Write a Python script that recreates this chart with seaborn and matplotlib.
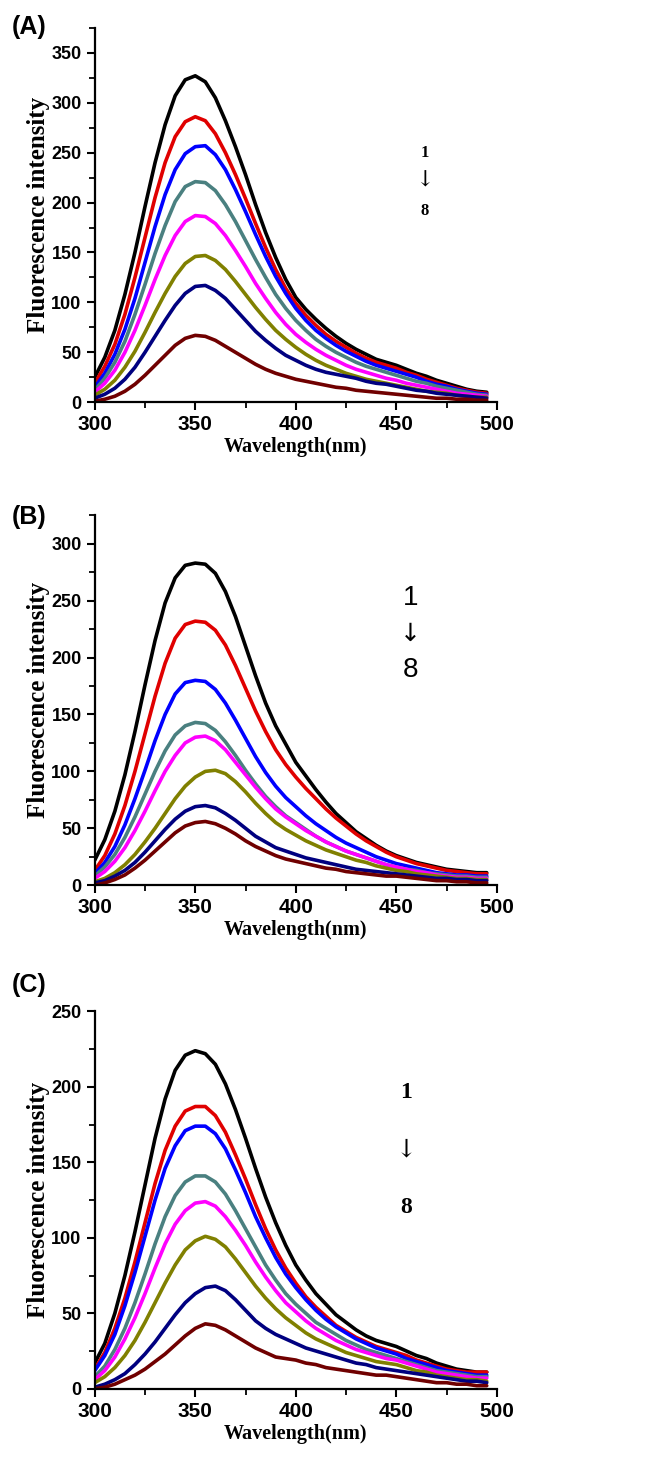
import numpy as np
import pandas as pd
import matplotlib
matplotlib.use("Agg")
import matplotlib.pyplot as plt
from matplotlib.ticker import MultipleLocator
import seaborn as sns

wavelength = list(range(300, 500, 5))

curve_names = ["1", "2", "3", "4", "5", "6", "7", "8"]
colors = ["#000000", "#e00000", "#0000ff", "#4a8080", "#ff00ff", "#808000", "#000080", "#700000"]

# ---- Panel A ----
A1 = [25, 45, 72, 108, 150, 196, 240, 278, 307, 323, 327, 321, 305, 282, 256, 228, 198, 170, 145, 123,
      105, 93, 83, 74, 66, 59, 53, 48, 43, 40, 37, 33, 29, 26, 22, 19, 16, 13, 11, 10]
A2 = [19, 36, 58, 88, 125, 165, 205, 240, 266, 281, 286, 282, 269, 250, 228, 204, 179, 155, 133, 114,
      99, 87, 77, 68, 61, 55, 49, 44, 40, 37, 34, 30, 27, 23, 20, 17, 14, 12, 10, 9]
A3 = [15, 29, 48, 73, 104, 140, 176, 208, 233, 249, 256, 257, 248, 233, 213, 191, 168, 146, 126, 109,
      94, 82, 72, 64, 57, 51, 46, 41, 37, 34, 31, 28, 25, 21, 18, 16, 13, 11, 9, 8]
A4 = [12, 24, 40, 61, 88, 118, 149, 177, 201, 216, 221, 220, 212, 198, 181, 162, 143, 125, 108, 94,
      82, 72, 63, 56, 50, 45, 40, 36, 33, 30, 27, 24, 21, 19, 16, 14, 12, 10, 8, 7]
A5 = [10, 19, 32, 50, 72, 97, 123, 147, 167, 181, 187, 186, 179, 167, 152, 136, 119, 104, 90, 78,
      68, 60, 53, 47, 42, 37, 33, 30, 27, 24, 22, 19, 17, 15, 13, 11, 9, 8, 7, 6]
A6 = [7, 13, 22, 35, 51, 70, 90, 109, 126, 139, 146, 147, 142, 133, 121, 108, 95, 83, 72, 63,
      55, 48, 42, 37, 33, 29, 26, 23, 21, 19, 17, 15, 13, 11, 10, 9, 7, 6, 5, 5]
A7 = [4, 8, 14, 23, 35, 50, 66, 82, 97, 109, 116, 117, 112, 104, 93, 82, 71, 62, 54, 47,
      42, 37, 33, 30, 28, 26, 24, 21, 19, 18, 16, 14, 12, 11, 9, 8, 7, 6, 5, 4]
A8 = [1, 3, 6, 11, 18, 27, 37, 47, 57, 64, 67, 66, 62, 56, 50, 44, 38, 33, 29, 26,
      23, 21, 19, 17, 15, 14, 12, 11, 10, 9, 8, 7, 6, 5, 4, 4, 3, 3, 2, 2]

# ---- Panel B ----
B1 = [22, 40, 65, 97, 135, 176, 215, 248, 270, 281, 283, 282, 274, 258, 236, 210, 184, 160, 140, 124,
      108, 96, 84, 73, 63, 55, 47, 41, 35, 30, 26, 23, 20, 18, 16, 14, 13, 12, 11, 11]
B2 = [13, 26, 45, 70, 100, 133, 166, 195, 217, 229, 232, 231, 224, 211, 193, 173, 153, 135, 119, 106,
      95, 85, 76, 67, 59, 52, 45, 39, 34, 29, 25, 22, 19, 17, 15, 13, 12, 11, 10, 10]
B3 = [10, 20, 34, 53, 76, 101, 127, 150, 168, 178, 180, 179, 172, 160, 145, 129, 113, 99, 87, 77,
      69, 61, 54, 48, 42, 37, 33, 29, 25, 22, 19, 17, 15, 13, 11, 10, 9, 9, 8, 8]
B4 = [8, 16, 27, 42, 60, 80, 100, 118, 132, 140, 143, 142, 136, 126, 114, 101, 89, 78, 69, 61,
      55, 49, 43, 38, 34, 30, 27, 24, 21, 18, 16, 14, 13, 11, 10, 9, 8, 8, 7, 7]
B5 = [6, 12, 21, 33, 48, 65, 83, 100, 114, 125, 130, 131, 127, 119, 108, 97, 86, 76, 67, 60,
      54, 48, 43, 38, 34, 30, 27, 24, 21, 18, 16, 14, 12, 11, 9, 8, 7, 7, 6, 6]
B6 = [3, 6, 11, 18, 27, 38, 50, 63, 76, 87, 95, 100, 101, 98, 91, 82, 72, 63, 55, 49,
      44, 39, 35, 31, 28, 25, 22, 20, 17, 15, 13, 12, 10, 9, 8, 7, 6, 6, 5, 5]
B7 = [2, 4, 8, 13, 20, 29, 39, 49, 58, 65, 69, 70, 68, 63, 57, 50, 43, 38, 33, 30,
      27, 24, 22, 20, 18, 16, 14, 13, 12, 11, 10, 9, 8, 7, 6, 6, 5, 5, 4, 4]
B8 = [0, 2, 5, 9, 15, 22, 30, 38, 46, 52, 55, 56, 54, 50, 45, 39, 34, 30, 26, 23,
      21, 19, 17, 15, 14, 12, 11, 10, 9, 8, 8, 7, 6, 5, 4, 4, 3, 3, 2, 2]

# ---- Panel C ----
C1 = [17, 30, 50, 75, 104, 135, 166, 192, 211, 221, 224, 222, 215, 202, 185, 166, 146, 127, 110, 95,
      82, 72, 63, 56, 49, 44, 39, 35, 32, 30, 28, 25, 22, 20, 17, 15, 13, 12, 11, 11]
C2 = [13, 24, 40, 60, 84, 110, 136, 158, 174, 184, 187, 187, 181, 170, 155, 139, 122, 106, 92, 80,
      70, 61, 54, 48, 42, 38, 34, 31, 28, 26, 24, 22, 19, 17, 15, 13, 12, 11, 11, 11]
C3 = [12, 22, 36, 55, 77, 101, 125, 146, 161, 171, 174, 174, 169, 159, 145, 130, 114, 100, 87, 76,
      67, 59, 52, 46, 41, 37, 33, 30, 27, 25, 23, 20, 18, 16, 14, 12, 11, 10, 9, 9]
C4 = [8, 15, 26, 40, 57, 76, 96, 114, 128, 137, 141, 141, 137, 129, 118, 106, 94, 82, 72, 63,
      56, 50, 44, 40, 36, 32, 29, 26, 24, 22, 20, 18, 16, 14, 12, 11, 10, 9, 8, 8]
C5 = [6, 12, 21, 33, 47, 63, 80, 96, 109, 118, 123, 124, 121, 114, 105, 95, 84, 74, 65, 57,
      51, 45, 40, 36, 32, 29, 26, 24, 22, 20, 19, 17, 15, 13, 11, 10, 9, 8, 7, 7]
C6 = [4, 8, 14, 22, 32, 44, 57, 70, 82, 92, 98, 101, 99, 94, 86, 77, 68, 60, 53, 47,
      42, 37, 33, 30, 27, 24, 22, 20, 18, 17, 16, 14, 12, 11, 9, 8, 7, 6, 6, 5]
C7 = [1, 3, 6, 10, 16, 23, 31, 40, 49, 57, 63, 67, 68, 65, 59, 52, 45, 40, 36, 33,
      30, 27, 25, 23, 21, 19, 17, 16, 14, 13, 12, 11, 10, 9, 8, 7, 6, 5, 5, 4]
C8 = [0, 1, 3, 6, 9, 13, 18, 23, 29, 35, 40, 43, 42, 39, 35, 31, 27, 24, 21, 20,
      19, 17, 16, 14, 13, 12, 11, 10, 9, 9, 8, 7, 6, 5, 4, 4, 3, 3, 2, 2]

panel_series = {
    "A": [A1, A2, A3, A4, A5, A6, A7, A8],
    "B": [B1, B2, B3, B4, B5, B6, B7, B8],
    "C": [C1, C2, C3, C4, C5, C6, C7, C8],
}
panel_labels = ["(A)", "(B)", "(C)"]
y_limits = [375, 325, 250]

sns.set_theme(style="ticks")
plt.rcParams["font.family"] = ["Liberation Sans", "DejaVu Sans"]
plt.rcParams["text.color"] = "black"
plt.rcParams["axes.labelcolor"] = "black"
plt.rcParams["xtick.color"] = "black"
plt.rcParams["ytick.color"] = "black"

fig = plt.figure(figsize=(6.58, 14.68), dpi=100)
positions = [
    [0.144, 0.726, 0.611, 0.255],
    [0.144, 0.397, 0.611, 0.252],
    [0.144, 0.054, 0.611, 0.257],
]
label_y_px = [27, 517, 985]

serif_bold = dict(family=["Liberation Serif", "DejaVu Serif"], fontweight="bold")

for i, key in enumerate(["A", "B", "C"]):
    ax = fig.add_axes(positions[i])
    rows = []
    for name, vals in zip(curve_names, panel_series[key]):
        for w, v in zip(wavelength, vals):
            rows.append({"Wavelength": w, "Intensity": v, "Curve": name})
    df = pd.DataFrame(rows)
    sns.lineplot(data=df, x="Wavelength", y="Intensity", hue="Curve",
                 palette=colors, linewidth=2.6, legend=False, ax=ax)
    ax.set_xlim(300, 500)
    ax.set_ylim(0, y_limits[i])
    ax.xaxis.set_major_locator(MultipleLocator(50))
    ax.xaxis.set_minor_locator(MultipleLocator(25))
    ax.yaxis.set_major_locator(MultipleLocator(50))
    ax.yaxis.set_minor_locator(MultipleLocator(25))
    sns.despine(ax=ax)
    for s in ["left", "bottom"]:
        ax.spines[s].set_linewidth(1.6)
        ax.spines[s].set_color("black")
    ax.tick_params(which="major", direction="out", length=6, width=1.5, colors="black")
    ax.tick_params(which="minor", direction="out", length=4, width=1.3, colors="black")
    for lab in ax.get_xticklabels():
        lab.set_fontweight("bold")
        lab.set_fontsize(15)
    for lab in ax.get_yticklabels():
        lab.set_fontweight("bold")
        lab.set_fontsize(13)
    ax.set_xlabel("Wavelength(nm)", fontsize=14.5, labelpad=2, color="black", **serif_bold)
    ax.set_ylabel("Fluorescence intensity", fontsize=18, labelpad=1, color="black", **serif_bold)
    fig.text(12 / 658, 1 - label_y_px[i] / 1468, panel_labels[i], fontsize=18,
             fontweight="bold", ha="left", va="center", color="black")

    if key == "A":
        ax.text(464, 250, "1", ha="center", va="center", fontsize=12, **serif_bold)
        ax.text(464, 222, "\u2193", ha="center", va="center", fontsize=16,
                family=["DejaVu Serif"])
        ax.text(464, 192, "8", ha="center", va="center", fontsize=12, **serif_bold)
    elif key == "B":
        ax.text(457, 252, "1", ha="center", va="center", fontsize=20)
        ax.text(457, 221, "\u2193", ha="center", va="center", fontsize=18,
                family=["DejaVu Sans"])
        ax.text(457, 189, "8", ha="center", va="center", fontsize=20)
    else:
        ax.text(455, 196, "1", ha="center", va="center", fontsize=17, **serif_bold)
        ax.text(455, 158, "\u2193", ha="center", va="center", fontsize=18,
                family=["DejaVu Serif"])
        ax.text(455, 120, "8", ha="center", va="center", fontsize=17, **serif_bold)

fig.savefig("out.png", dpi=100)
